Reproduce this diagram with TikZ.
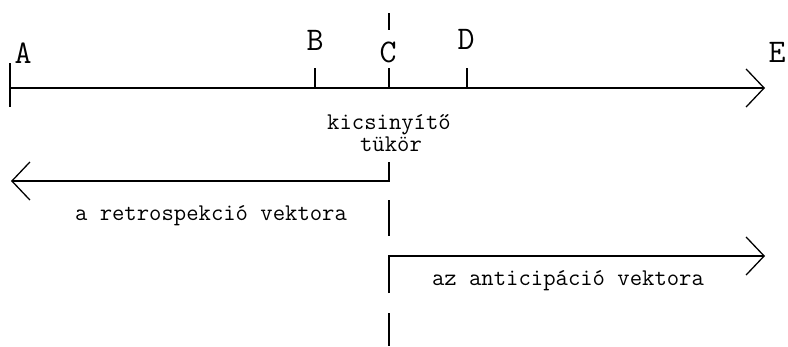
\documentclass[tikz,border=0pt]{standalone}
\usepackage{fontspec}
\usetikzlibrary{arrows.meta}
\tikzset{
  axisline/.style={line width=1.3pt},
  barb/.style={-{Straight Barb[length=18pt,width=38pt,line width=1.3pt]}},
  pointlabel/.style={font=\fontsize{33}{35}\selectfont\ttfamily\addfontfeatures{FakeBold=1.2}, anchor=base, inner sep=0pt},
  textlabel/.style={font=\fontsize{24}{26}\selectfont\ttfamily\addfontfeatures{FakeBold=1.2}, anchor=base, inner sep=0pt},
}
\begin{document}
\begin{tikzpicture}[x=1pt,y=-1pt]
  \useasboundingbox (0,0) rectangle (788,346);

  % time axis with its marks
  \coordinate (a0) at (10,88);
  \coordinate (e0) at (765,88);
  \coordinate (aT) at (10,63);  \coordinate (aB) at (10,107);
  \coordinate (b0) at (315,88); \coordinate (bT) at (315,68);
  \coordinate (c0) at (389,88); \coordinate (cT) at (389,68);
  \coordinate (d0) at (467,88); \coordinate (dT) at (467,68);

  \draw[axisline,barb] (a0) -- (e0);
  \draw[axisline] (aT) -- (aB);
  \draw[axisline] (b0) -- (bT);
  \draw[axisline] (c0) -- (cT);
  \draw[axisline] (d0) -- (dT);

  \node[pointlabel] (A) at (23,63) {A};
  \node[pointlabel] (B) at (315,50) {B};
  \node[pointlabel] (C) at (388,62) {C};
  \node[pointlabel] (D) at (466,49) {D};
  \node[pointlabel] (E) at (777,62) {E};

  % mirror label
  \node[textlabel] (mirror1) at (389,129) {kicsinyítő};
  \node[textlabel] (mirror2) at (391,151) {tükör};

  % retrospection vector
  \coordinate (rTop) at (389,162);
  \coordinate (rCorner) at (389,181);
  \coordinate (rEnd) at (11,181);
  \draw[axisline,barb] (rTop) -- (rCorner) -- (rEnd);
  \node[textlabel] (retro) at (211,220) {a retrospekció vektora};

  % anticipation vector
  \coordinate (pBot) at (389,293);
  \coordinate (pCorner) at (389,256);
  \coordinate (pEnd) at (765,256);
  \draw[axisline,barb] (pBot) -- (pCorner) -- (pEnd);
  \node[textlabel] (antic) at (568,285) {az anticipáció vektora};

  % broken vertical line through C
  \coordinate (v1a) at (389,13);  \coordinate (v1b) at (389,30);
  \coordinate (v2a) at (389,200); \coordinate (v2b) at (389,236);
  \coordinate (v3a) at (389,313); \coordinate (v3b) at (389,346);
  \draw[axisline] (v1a) -- (v1b);
  \draw[axisline] (v2a) -- (v2b);
  \draw[axisline] (v3a) -- (v3b);
\end{tikzpicture}
\end{document}
